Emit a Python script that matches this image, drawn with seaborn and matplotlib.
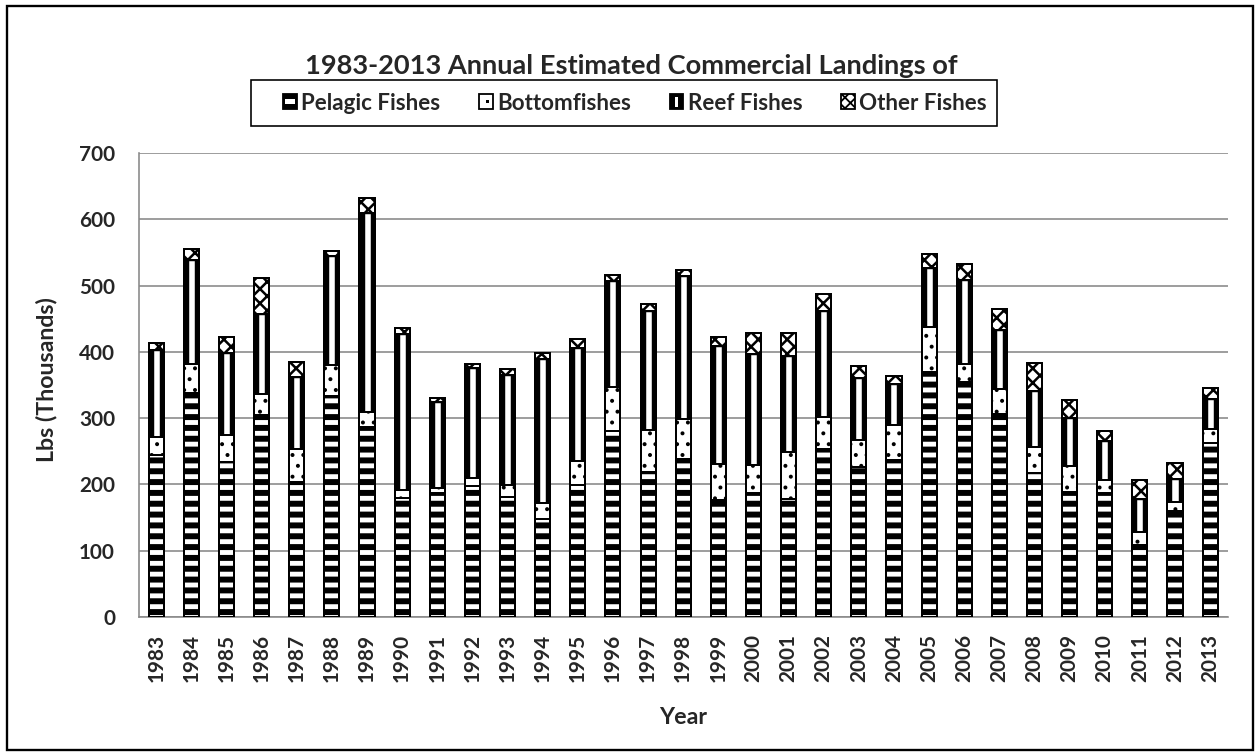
import numpy as np
import pandas as pd
import matplotlib
matplotlib.use("Agg")
import matplotlib.pyplot as plt
import seaborn as sns
from matplotlib.patches import Patch, Rectangle
from matplotlib.legend_handler import HandlerBase

years = [str(y) for y in range(1983, 2014)]
pelagic = [245, 338, 234, 304, 203, 334, 286, 180, 187, 198, 181, 148, 199, 281, 219, 239,
           176, 187, 178, 254, 226, 237, 369, 354, 306, 217, 189, 187, 108, 160, 263]
bottomfish = [27, 44, 40, 32, 51, 46, 23, 12, 7, 12, 18, 24, 36, 66, 63, 59,
              55, 43, 71, 48, 41, 53, 69, 27, 38, 39, 39, 20, 20, 13, 20]
reef = [131, 156, 124, 121, 108, 165, 301, 235, 130, 165, 166, 217, 171, 160, 180, 217,
        178, 167, 144, 159, 94, 61, 89, 127, 89, 85, 72, 58, 50, 35, 46]
other = [10, 17, 25, 55, 22, 7, 22, 9, 7, 7, 9, 9, 14, 9, 10, 8,
         14, 31, 35, 27, 17, 13, 21, 25, 31, 42, 27, 15, 28, 24, 17]
labels = ["Pelagic Fishes", "Bottomfishes", "Reef Fishes", "Other Fishes"]

df = pd.DataFrame({"year": years, "pelagic": pelagic, "bottom": bottomfish,
                   "reef": reef, "other": other})
df["c_pel"] = df["pelagic"]
df["c_bot"] = df["c_pel"] + df["bottom"]
df["c_reef"] = df["c_bot"] + df["reef"]
df["c_oth"] = df["c_reef"] + df["other"]

sns.set_style("white")
plt.rcParams["font.family"] = ["Lato", "DejaVu Sans"]
plt.rcParams["font.weight"] = "bold"

DPI = 130
W, H = 1257, 752
GRAY = "#898989"
fig = plt.figure(figsize=(W / DPI, H / DPI), dpi=DPI)
ax = fig.add_axes([138.7 / W, 135 / H, 1089 / W, 464 / H])

BW = 0.43


def layer(col, face, hatch=None, hlw=1.0, width=BW, lw=1.1, z=2):
    with plt.rc_context({"hatch.linewidth": hlw}):
        sns.barplot(data=df, x="year", y=col, color=face, width=width, saturation=1,
                    edgecolor="black", linewidth=lw, hatch=hatch, errorbar=None,
                    ax=ax, zorder=z)
    for p in ax.containers[-1]:
        if hasattr(p, "set_hatch_linewidth"):
            p.set_hatch_linewidth(hlw)


# stacked bars drawn as overlapping cumulative layers
layer("c_oth", "white", "xxx", hlw=1.4, z=2)
layer("c_reef", "black", None, z=3)
layer("c_reef", "white", None, width=0.2, lw=0.8, z=4)
layer("c_bot", "white", "..", hlw=1.0, z=5)
layer("c_pel", "white", "--", hlw=3.3, z=6)

ax.set_ylim(0, 700)
ax.set_yticks(range(0, 701, 100))
ax.set_xlim(-0.5, len(years) - 0.5)
ax.set_xticks(np.arange(-0.5, len(years), 1), minor=True)
ax.set_axisbelow(True)
ax.yaxis.grid(True, color=GRAY, lw=0.9)
ax.xaxis.grid(False)
for s in ["top", "right"]:
    ax.spines[s].set_visible(False)
for s in ["left", "bottom"]:
    ax.spines[s].set_color(GRAY)
    ax.spines[s].set_linewidth(0.9)

ax.tick_params(axis="x", which="major", length=0, pad=9.4, labelsize=11.5, labelrotation=90)
ax.tick_params(axis="x", which="minor", length=3.9, width=0.9, color=GRAY)
ax.tick_params(axis="y", length=3.9, width=0.9, color=GRAY, pad=9.2, labelsize=11.5)
for t in ax.get_xticklabels() + ax.get_yticklabels():
    t.set_fontweight("bold")

ax.set_xlabel("Year", fontsize=12.8, fontweight="bold")
ax.set_ylabel("Lbs (Thousands)", fontsize=12.8, fontweight="bold")
ax.xaxis.set_label_coords(0.5, (617 - 707) / 464)
ax.yaxis.set_label_coords((57 - 138.7) / 1089, 0.511)

fig.text(631 / W, 1 - 66 / H, "1983-2013 Annual Estimated Commercial Landings of",
         ha="center", va="center", fontsize=15.1, fontweight="bold")

# legend icons
icon_inner = {
    "Pelagic Fishes": (0.15, 0.36, 0.7, 0.3, "white"),
    "Bottomfishes": (0.55, 0.4, 0.15, 0.18, "black"),
    "Reef Fishes": (0.36, 0.15, 0.28, 0.7, "white"),
}


class IconHandler(HandlerBase):
    def create_artists(self, legend, handle, xd, yd, w, h, fontsize, trans):
        x0, y0 = -xd, -yd
        arts = [Rectangle((x0, y0), w, h, facecolor=handle.get_facecolor(),
                          edgecolor="black", hatch=handle.get_hatch(), lw=1.0,
                          transform=trans)]
        spec = icon_inner.get(handle.get_label())
        if spec:
            fx, fy, fw, fh, c = spec
            arts.append(Rectangle((x0 + fx * w, y0 + fy * h), fw * w, fh * h,
                                  facecolor=c, edgecolor="none", transform=trans))
        return arts


handles = [Patch(facecolor="black", label=labels[0]),
           Patch(facecolor="white", label=labels[1]),
           Patch(facecolor="black", label=labels[2]),
           Patch(facecolor="white", hatch="xxxx", label=labels[3])]
fig.legend(handles=handles, labels=labels, ncol=4, loc="center",
           bbox_to_anchor=(635 / W, 1 - 103 / H), frameon=False,
           prop={"size": 12.4, "weight": "bold"}, handlelength=0.6, handleheight=0.6,
           handletextpad=0.2, columnspacing=1.74,
           handler_map={Patch: IconHandler()})
fig.patches.append(Rectangle((251 / W, 1 - 126 / H), 746 / W, 46 / H, transform=fig.transFigure,
                             facecolor="none", edgecolor="black", lw=0.9))
fig.patches.append(Rectangle((7 / W, 2 / H), 1246 / W, 744 / H, transform=fig.transFigure,
                             facecolor="none", edgecolor="black", lw=1.3))

fig.savefig("out.png", dpi=DPI)
